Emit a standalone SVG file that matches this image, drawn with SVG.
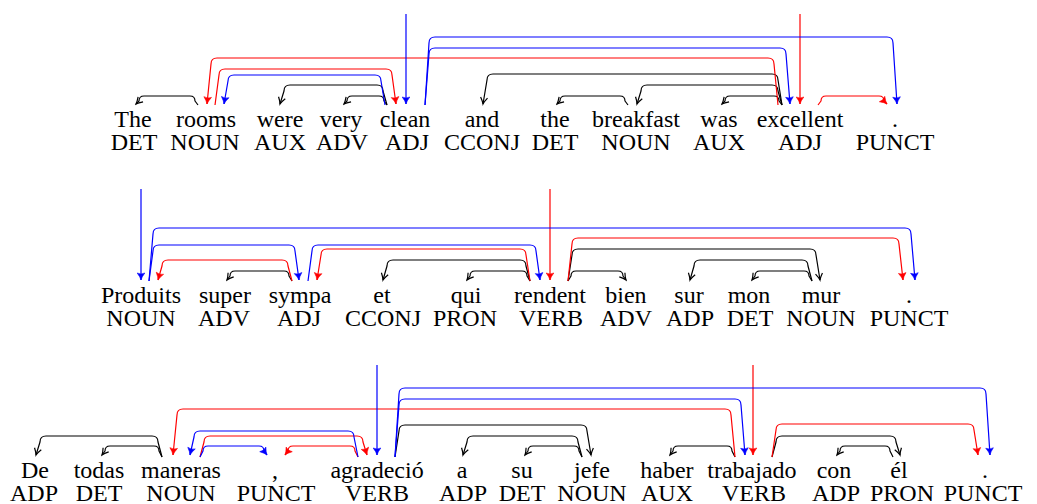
<svg xmlns="http://www.w3.org/2000/svg" width="1037" height="504" viewBox="0 0 1037 504">
<defs>
<marker id="mk" viewBox="-8 -5 10 10" markerWidth="10" markerHeight="10" refX="0" refY="0" orient="auto" markerUnits="userSpaceOnUse"><path d="M-6.5,-3.5 Q-2.5,-0.8 0,0 Q-2.5,0.8 -6.5,3.5" fill="none" stroke="#000" stroke-width="1.2"/></marker>
<marker id="mr" viewBox="-8 -5 10 10" markerWidth="10" markerHeight="10" refX="0" refY="0" orient="auto" markerUnits="userSpaceOnUse"><path d="M-7,-3.8 Q-3,-0.8 0,0 Q-3,0.8 -7,3.8 Q-5,0 -7,-3.8Z" fill="#f00" stroke="#f00" stroke-width="0.6"/></marker>
<marker id="mb" viewBox="-8 -5 10 10" markerWidth="10" markerHeight="10" refX="0" refY="0" orient="auto" markerUnits="userSpaceOnUse"><path d="M-7,-3.8 Q-3,-0.8 0,0 Q-3,0.8 -7,3.8 Q-5,0 -7,-3.8Z" fill="#00f" stroke="#00f" stroke-width="0.6"/></marker>
</defs>
<g id="connectors" fill="none" stroke-width="1.2" stroke-linejoin="round">
<g id="black-edges" stroke="#000" marker-end="url(#mk)">
<path d="M198 105 L195 101 Q195 96 190 96 H144 Q139 96 139 101 L136 104"/>
<path d="M387 105 L383 91 Q383 85 377 85 H290 Q284 85 284 91 L280 104"/>
<path d="M387 105 L384 101 Q384 96 379 96 H352 Q347 96 347 101 L344 104"/>
<path d="M782 105 L778 80 Q778 74 772 74 H493 Q487 74 487 80 L483 104"/>
<path d="M782 105 L778 91 Q778 85 772 85 H647 Q641 85 641 91 L637 104"/>
<path d="M782 105 L779 101 Q779 96 774 96 H730 Q725 96 725 101 L722 104"/>
<path d="M628 105 L625 101 Q625 96 620 96 H565 Q560 96 560 101 L557 104"/>
<path d="M292 281 L289 276 Q289 271 284 271 H235 Q230 271 230 276 L227 280"/>
<path d="M530 281 L526 266 Q526 260 520 260 H393 Q387 260 387 266 L383 280"/>
<path d="M530 281 L527 276 Q527 271 522 271 H475 Q470 271 470 276 L467 280"/>
<path d="M568 281 L572 255 Q572 249 578 249 H810 Q816 249 816 255 L820 280"/>
<path d="M568 281 L571 276 Q571 271 576 271 H618 Q623 271 623 276 L626 280"/>
<path d="M812 281 L808 266 Q808 260 802 260 H700 Q694 260 694 266 L690 280"/>
<path d="M812 281 L809 276 Q809 271 804 271 H760 Q755 271 755 276 L752 280"/>
<path d="M162 457 L158 442 Q158 436 152 436 H46 Q40 436 40 442 L36 455"/>
<path d="M162 457 L159 451 Q159 446 154 446 H110 Q105 446 105 451 L102 455"/>
<path d="M395 457 L399 431 Q399 425 405 425 H581 Q587 425 587 431 L591 455"/>
<path d="M582 457 L578 442 Q578 436 572 436 H473 Q467 436 467 442 L463 455"/>
<path d="M582 457 L579 451 Q579 446 574 446 H533 Q528 446 528 451 L525 455"/>
<path d="M735 457 L732 451 Q732 446 727 446 H678 Q673 446 673 451 L670 455"/>
<path d="M772 457 L776 442 Q776 436 782 436 H890 Q896 436 896 442 L900 455"/>
<path d="M893 457 L890 451 Q890 446 885 446 H845 Q840 446 840 451 L837 455"/>
</g>
<g id="red-edges" stroke="#f00" marker-end="url(#mr)">
<path d="M778 105 L774 64 Q774 58 768 58 H217 Q211 58 211 64 L207 104"/>
<path d="M215 105 L219 75 Q219 69 225 69 H386 Q392 69 392 75 L396 104"/>
<path d="M800 14 V104"/>
<path d="M818 105 L821 101 Q821 96 826 96 H879 Q884 96 884 101 L887 104"/>
<path d="M292 281 L288 266 Q288 260 282 260 H168 Q162 260 162 266 L158 280"/>
<path d="M530 281 L526 255 Q526 249 520 249 H327 Q321 249 321 255 L317 280"/>
<path d="M550 189 V280"/>
<path d="M568 281 L572 244 Q572 238 578 238 H893 Q899 238 899 244 L903 280"/>
<path d="M735 457 L731 415 Q731 409 725 409 H183 Q177 409 177 415 L173 455"/>
<path d="M200 457 L204 442 Q204 436 210 436 H357 Q363 436 363 442 L367 455"/>
<path d="M358 457 L355 451 Q355 446 350 446 H293 Q288 446 288 451 L285 455"/>
<path d="M753 365 V455"/>
<path d="M772 457 L776 430 Q776 424 782 424 H968 Q974 424 974 430 L978 455"/>
</g>
<g id="blue-edges" stroke="#00f" marker-end="url(#mb)">
<path d="M385 105 L381 81 Q381 75 375 75 H234 Q228 75 228 81 L224 104"/>
<path d="M406 14 V104"/>
<path d="M425 105 L429 43 Q429 37 435 37 H887 Q893 37 893 43 L897 104"/>
<path d="M425 105 L429 54 Q429 48 435 48 H780 Q786 48 786 54 L790 104"/>
<path d="M141 189 V280"/>
<path d="M149 281 L153 234 Q153 228 159 228 H905 Q911 228 911 234 L915 280"/>
<path d="M149 281 L153 251 Q153 245 159 245 H289 Q295 245 295 251 L299 280"/>
<path d="M308 281 L312 251 Q312 245 318 245 H530 Q536 245 536 251 L540 280"/>
<path d="M358 457 L354 437 Q354 431 348 431 H200 Q194 431 194 437 L190 455"/>
<path d="M200 457 L203 451 Q203 446 208 446 H259 Q264 446 264 451 L267 455"/>
<path d="M377 365 V455"/>
<path d="M395 457 L399 394 Q399 388 405 388 H980 Q986 388 986 394 L990 455"/>
<path d="M395 457 L399 405 Q399 399 405 399 H735 Q741 399 741 405 L745 455"/>
</g>
</g>
<g id="s1-w1"><text x="114.3" y="127" font-family="Liberation Serif" font-size="24">The</text><text x="110.7" y="150" font-family="Liberation Serif" font-size="24">DET</text></g>
<g id="s1-w2"><text x="176" y="127" font-family="Liberation Serif" font-size="24">rooms</text><text x="170.3" y="150" font-family="Liberation Serif" font-size="24">NOUN</text></g>
<g id="s1-w3"><text x="256.7" y="127" font-family="Liberation Serif" font-size="24">were</text><text x="254" y="150" font-family="Liberation Serif" font-size="24">AUX</text></g>
<g id="s1-w4"><text x="319.7" y="127" font-family="Liberation Serif" font-size="24">very</text><text x="316" y="150" font-family="Liberation Serif" font-size="24">ADV</text></g>
<g id="s1-w5"><text x="379.7" y="127" font-family="Liberation Serif" font-size="24">clean</text><text x="385" y="150" font-family="Liberation Serif" font-size="24">ADJ</text></g>
<g id="s1-w6"><text x="464.7" y="127" font-family="Liberation Serif" font-size="24">and</text><text x="444" y="150" font-family="Liberation Serif" font-size="24">CCONJ</text></g>
<g id="s1-w7"><text x="540.3" y="127" font-family="Liberation Serif" font-size="24">the</text><text x="531.7" y="150" font-family="Liberation Serif" font-size="24">DET</text></g>
<g id="s1-w8"><text x="592" y="127" font-family="Liberation Serif" font-size="24">breakfast</text><text x="601.3" y="150" font-family="Liberation Serif" font-size="24">NOUN</text></g>
<g id="s1-w9"><text x="700.3" y="127" font-family="Liberation Serif" font-size="24">was</text><text x="693" y="150" font-family="Liberation Serif" font-size="24">AUX</text></g>
<g id="s1-w10"><text x="756.7" y="127" font-family="Liberation Serif" font-size="24">excellent</text><text x="778" y="150" font-family="Liberation Serif" font-size="24">ADJ</text></g>
<g id="s1-w11"><text x="892" y="127" font-family="Liberation Serif" font-size="24">.</text><text x="855.7" y="150" font-family="Liberation Serif" font-size="24">PUNCT</text></g>
<g id="s2-w1"><text x="101" y="303" font-family="Liberation Serif" font-size="24">Produits</text><text x="106.3" y="326" font-family="Liberation Serif" font-size="24">NOUN</text></g>
<g id="s2-w2"><text x="199" y="303" font-family="Liberation Serif" font-size="24">super</text><text x="198" y="326" font-family="Liberation Serif" font-size="24">ADV</text></g>
<g id="s2-w3"><text x="268.7" y="303" font-family="Liberation Serif" font-size="24">sympa</text><text x="277" y="326" font-family="Liberation Serif" font-size="24">ADJ</text></g>
<g id="s2-w4"><text x="373.3" y="303" font-family="Liberation Serif" font-size="24">et</text><text x="345" y="326" font-family="Liberation Serif" font-size="24">CCONJ</text></g>
<g id="s2-w5"><text x="450.7" y="303" font-family="Liberation Serif" font-size="24">qui</text><text x="433" y="326" font-family="Liberation Serif" font-size="24">PRON</text></g>
<g id="s2-w6"><text x="514" y="303" font-family="Liberation Serif" font-size="24">rendent</text><text x="519" y="326" font-family="Liberation Serif" font-size="24">VERB</text></g>
<g id="s2-w7"><text x="605.3" y="303" font-family="Liberation Serif" font-size="24">bien</text><text x="600" y="326" font-family="Liberation Serif" font-size="24">ADV</text></g>
<g id="s2-w8"><text x="674.3" y="303" font-family="Liberation Serif" font-size="24">sur</text><text x="666" y="326" font-family="Liberation Serif" font-size="24">ADP</text></g>
<g id="s2-w9"><text x="727.7" y="303" font-family="Liberation Serif" font-size="24">mon</text><text x="726.7" y="326" font-family="Liberation Serif" font-size="24">DET</text></g>
<g id="s2-w10"><text x="801.7" y="303" font-family="Liberation Serif" font-size="24">mur</text><text x="786.3" y="326" font-family="Liberation Serif" font-size="24">NOUN</text></g>
<g id="s2-w11"><text x="906" y="303" font-family="Liberation Serif" font-size="24">.</text><text x="869.7" y="326" font-family="Liberation Serif" font-size="24">PUNCT</text></g>
<g id="s3-w1"><text x="21" y="478" font-family="Liberation Serif" font-size="24">De</text><text x="10" y="501" font-family="Liberation Serif" font-size="24">ADP</text></g>
<g id="s3-w2"><text x="73.7" y="478" font-family="Liberation Serif" font-size="24">todas</text><text x="75.7" y="501" font-family="Liberation Serif" font-size="24">DET</text></g>
<g id="s3-w3"><text x="141" y="478" font-family="Liberation Serif" font-size="24">maneras</text><text x="146.3" y="501" font-family="Liberation Serif" font-size="24">NOUN</text></g>
<g id="s3-w4"><text x="272" y="478" font-family="Liberation Serif" font-size="24">,</text><text x="236.7" y="501" font-family="Liberation Serif" font-size="24">PUNCT</text></g>
<g id="s3-w5"><text x="330.4" y="478" font-family="Liberation Serif" font-size="24">agradeció</text><text x="345" y="501" font-family="Liberation Serif" font-size="24">VERB</text></g>
<g id="s3-w6"><text x="456.7" y="478" font-family="Liberation Serif" font-size="24">a</text><text x="439" y="501" font-family="Liberation Serif" font-size="24">ADP</text></g>
<g id="s3-w7"><text x="511.3" y="478" font-family="Liberation Serif" font-size="24">su</text><text x="498.7" y="501" font-family="Liberation Serif" font-size="24">DET</text></g>
<g id="s3-w8"><text x="574" y="478" font-family="Liberation Serif" font-size="24">jefe</text><text x="557.3" y="501" font-family="Liberation Serif" font-size="24">NOUN</text></g>
<g id="s3-w9"><text x="640.3" y="478" font-family="Liberation Serif" font-size="24">haber</text><text x="641" y="501" font-family="Liberation Serif" font-size="24">AUX</text></g>
<g id="s3-w10"><text x="707.3" y="478" font-family="Liberation Serif" font-size="24">trabajado</text><text x="722" y="501" font-family="Liberation Serif" font-size="24">VERB</text></g>
<g id="s3-w11"><text x="816.7" y="478" font-family="Liberation Serif" font-size="24">con</text><text x="812" y="501" font-family="Liberation Serif" font-size="24">ADP</text></g>
<g id="s3-w12"><text x="890.3" y="478" font-family="Liberation Serif" font-size="24">él</text><text x="870" y="501" font-family="Liberation Serif" font-size="24">PRON</text></g>
<g id="s3-w13"><text x="982" y="478" font-family="Liberation Serif" font-size="24">.</text><text x="943.7" y="501" font-family="Liberation Serif" font-size="24">PUNCT</text></g>
</svg>
